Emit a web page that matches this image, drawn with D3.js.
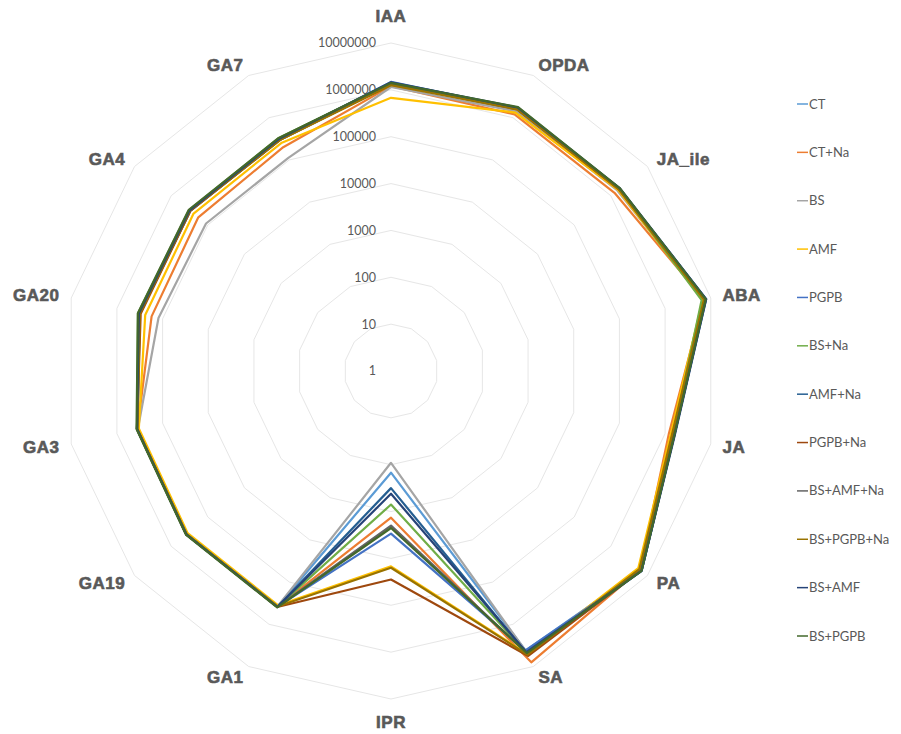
<!DOCTYPE html>
<html>
<head>
<meta charset="utf-8">
<script src="https://cdn.jsdelivr.net/npm/d3@7"></script>
<style>
  html, body { margin: 0; padding: 0; background: #ffffff; }
  svg { display: block; }
</style>
</head>
<body>
<svg id="chart" width="901" height="734"></svg>
<script>
const axes = ["IAA", "OPDA", "JA_ile", "ABA", "JA", "PA", "SA", "IPR", "GA1", "GA19", "GA3", "GA20", "GA4", "GA7"];
const seriesNames = ["CT", "CT+Na", "BS", "AMF", "PGPB", "BS+Na", "AMF+Na", "PGPB+Na", "BS+AMF+Na", "BS+PGPB+Na", "BS+AMF", "BS+PGPB"];
const tickValues = [1, 10, 100, 1000, 10000, 100000, 1000000, 10000000];
const tickLabels = ["1", "10", "100", "1000", "10000", "100000", "1000000", "10000000"];

const CT        = [1320000, 1580000, 1660000, 7590000, 1510000, 6610000, 4170000, 148,   380000, 380000, 355000, 316000, 302000, 295000];
const CT_Na     = [1200000, 1200000, 1260000, 7080000, 1200000, 6310000, 7940000, 1350,  380000, 380000, 355000, 174000, 182000, 200000];
const BS        = [1150000, 1410000, 1510000, 7240000, 1410000, 6310000, 4470000, 91,    372000, 372000, 347000, 123000, 112000, 112000];
const AMF       = [676000,  1320000, 1580000, 6610000, 1320000, 5620000, 5010000, 14800, 355000, 355000, 331000, 240000, 245000, 251000];
const PGPB      = [1480000, 1660000, 1740000, 7940000, 1580000, 6920000, 4170000, 2950,  380000, 389000, 363000, 316000, 302000, 302000];
const BS_Na     = [1380000, 1660000, 1700000, 6310000, 1510000, 6610000, 4790000, 708,   380000, 380000, 363000, 347000, 324000, 331000];
const AMF_Na    = [1410000, 1700000, 1740000, 7760000, 1580000, 6920000, 5010000, 316,   389000, 389000, 363000, 324000, 309000, 309000];
const PGPB_Na   = [1320000, 1580000, 1660000, 7410000, 1450000, 6610000, 5620000, 28200, 389000, 389000, 363000, 302000, 302000, 295000];
const BS_AMF_Na = [1380000, 1700000, 1740000, 7590000, 1580000, 6760000, 4790000, 2000,  389000, 389000, 363000, 331000, 316000, 316000];
const BS_PGPB_Na= [1260000, 1580000, 1660000, 7080000, 1410000, 6030000, 5250000, 15800, 380000, 380000, 355000, 316000, 309000, 295000];
const BS_AMF    = [1450000, 1740000, 1780000, 7940000, 1620000, 6920000, 4570000, 417,   389000, 389000, 363000, 331000, 316000, 316000];
const BS_PGPB   = [1410000, 1780000, 1780000, 7760000, 1580000, 6920000, 4790000, 2240,  398000, 398000, 372000, 347000, 331000, 331000];

const seriesValues = [CT, CT_Na, BS, AMF, PGPB, BS_Na, AMF_Na, PGPB_Na, BS_AMF_Na, BS_PGPB_Na, BS_AMF, BS_PGPB];
const colors = ["#5B9BD5", "#ED7D31", "#A5A5A5", "#FFC000", "#4472C4", "#70AD47", "#255E91", "#9E480E", "#636363", "#997300", "#264478", "#43682B"];

const svg = d3.select("#chart");
const cx = 391, cy = 371, R = 328;
const n = axes.length;
const angle = d3.scalePoint().domain(d3.range(n + 1)).range([0, 2 * Math.PI]);
const rScale = d3.scaleLog().domain([1, 10000000]).range([0, R]);

const g = svg.append("g").attr("transform", `translate(${cx},${cy})`);

// grid rings
const ringLine = d3.lineRadial()
  .angle((d, i) => angle(i))
  .radius(d => d)
  .curve(d3.curveLinearClosed);

g.append("g").selectAll("path")
  .data(tickValues.filter(t => t > 1))
  .join("path")
  .attr("d", t => ringLine(d3.range(n).map(() => rScale(t))))
  .attr("fill", "none")
  .attr("stroke", "#e6e6e6")
  .attr("stroke-width", 1);

// tick labels
g.append("g").selectAll("text")
  .data(tickValues)
  .join("text")
  .attr("x", -15)
  .attr("y", t => -rScale(t))
  .attr("dy", "0.35em")
  .attr("text-anchor", "end")
  .attr("font-family", "Lato, 'Open Sans', sans-serif")
  .attr("font-size", 12.5)
  .attr("fill", "#595959")
  .text((t, i) => tickLabels[i]);

// series lines
const dataLine = d3.lineRadial()
  .angle((d, i) => angle(i))
  .radius(d => rScale(d))
  .curve(d3.curveLinearClosed);

g.append("g").selectAll("path")
  .data(seriesValues)
  .join("path")
  .attr("d", d => dataLine(d))
  .attr("fill", "none")
  .attr("stroke", (d, i) => colors[i])
  .attr("stroke-width", 2.2)
  .attr("stroke-linejoin", "round");

// axis labels
const labelBase = 340;
const axisLabels = g.append("g").selectAll("text")
  .data(axes)
  .join("text")
  .attr("dy", "0.36em")
  .attr("text-anchor", "middle")
  .attr("font-family", "'Liberation Sans', Arial, sans-serif")
  .attr("font-weight", "bold")
  .attr("font-size", 17)
  .attr("letter-spacing", 0.5)
  .attr("fill", "#595959")
  .attr("stroke", "#595959")
  .attr("stroke-width", 0.6)
  .text(d => d);

axisLabels.each(function(d, i) {
  const a = angle(i);
  const s = Math.sin(a), c = Math.cos(a);
  const halfW = this.getComputedTextLength() / 2;
  let x = labelBase * s, y = -labelBase * c;
  if (Math.abs(s) > 0.01) x += Math.sign(s) * halfW;
  else y += c > 0 ? -15 : 11;
  d3.select(this).attr("x", x).attr("y", y);
});

// legend
const legendY = d3.scalePoint().domain(seriesNames).range([104, 636]);
const legend = svg.append("g").selectAll("g")
  .data(seriesNames)
  .join("g")
  .attr("transform", d => `translate(797,${legendY(d)})`);
legend.append("line")
  .attr("x1", 0).attr("x2", 11)
  .attr("y1", 0).attr("y2", 0)
  .attr("stroke", (d, i) => colors[i])
  .attr("stroke-width", 1.5);
legend.append("text")
  .attr("x", 12)
  .attr("dy", "0.35em")
  .attr("font-family", "Lato, 'Open Sans', sans-serif")
  .attr("font-size", 13)
  .attr("fill", "#595959")
  .text(d => d);
</script>
</body>
</html>
